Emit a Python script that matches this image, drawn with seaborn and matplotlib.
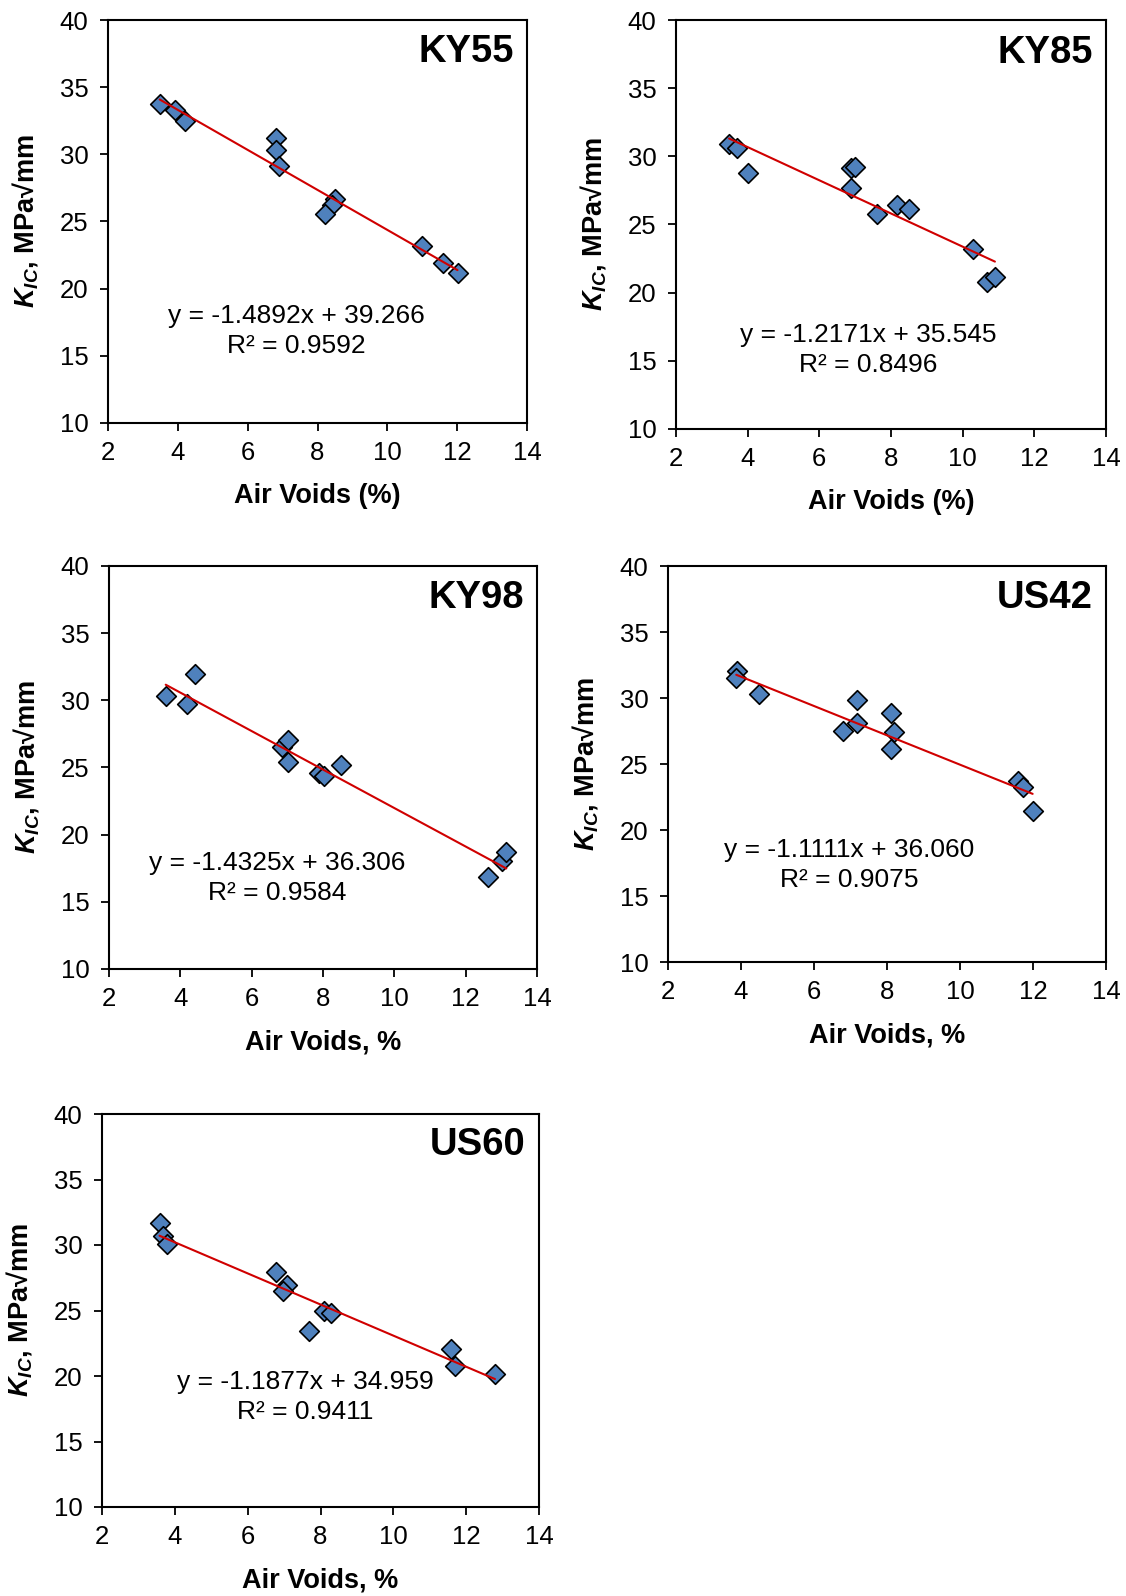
# Fracture toughness (K_IC) vs air voids for five field cores
import numpy as np
import pandas as pd
import matplotlib
matplotlib.use('Agg')
import matplotlib.pyplot as plt
import seaborn as sns

# ── data ─────────────────────────────────────────────────────
sites = ['KY55', 'KY85', 'KY98', 'US42', 'US60']

ky55_voids = [3.48, 3.91, 4.20, 6.80, 6.80, 6.89, 8.50, 8.41, 8.21, 10.99, 11.58, 12.01]
ky55_kic   = [33.78, 33.28, 32.49, 31.22, 30.30, 29.10, 26.67, 26.20, 25.57, 23.21, 21.92, 21.17]

ky85_voids = [3.48, 3.69, 4.00, 6.88, 7.00, 6.88, 7.60, 8.18, 8.49, 10.28, 10.69, 10.90]
ky85_kic   = [30.89, 30.60, 28.76, 29.18, 29.20, 27.71, 25.78, 26.42, 26.17, 23.19, 20.75, 21.12]

ky98_voids = [3.59, 4.19, 4.40, 6.86, 7.02, 7.02, 7.89, 8.02, 8.51, 12.63, 13.02, 13.14]
ky98_kic   = [30.35, 29.73, 31.96, 26.53, 27.02, 25.41, 24.59, 24.34, 25.21, 16.82, 18.01, 18.68]

us42_voids = [3.89, 3.87, 4.50, 6.80, 7.19, 7.19, 8.10, 8.19, 8.10, 11.58, 11.72, 11.99]
us42_kic   = [32.06, 31.51, 30.29, 27.51, 29.86, 28.09, 28.90, 27.46, 26.12, 23.74, 23.28, 21.44]

us60_voids = [3.58, 3.68, 3.79, 6.77, 7.09, 6.97, 7.69, 8.10, 8.28, 11.58, 11.69, 12.79]
us60_kic   = [31.68, 30.66, 30.08, 27.91, 26.97, 26.46, 23.41, 24.94, 24.81, 22.06, 20.74, 20.18]

# linear trendlines as reported on the chart
slopes     = [-1.4892, -1.2171, -1.4325, -1.1111, -1.1877]
intercepts = [39.266, 35.545, 36.306, 36.060, 34.959]
r2_labels  = ['0.9592', '0.8496', '0.9584', '0.9075', '0.9411']
eq_labels  = ['-1.4892x + 39.266', '-1.2171x + 35.545', '-1.4325x + 36.306',
              '-1.1111x + 36.060', '-1.1877x + 34.959']
xlabels    = ['Air Voids (%)', 'Air Voids (%)', 'Air Voids, %', 'Air Voids, %', 'Air Voids, %']

voids_all = [ky55_voids, ky85_voids, ky98_voids, us42_voids, us60_voids]
kic_all   = [ky55_kic, ky85_kic, ky98_kic, us42_kic, us60_kic]

df = pd.concat([pd.DataFrame({'site': s, 'voids': v, 'kic': k})
                for s, v, k in zip(sites, voids_all, kic_all)], ignore_index=True)

# ── style ────────────────────────────────────────────────────
sns.set_style('ticks')
plt.rcParams['font.family'] = ['Liberation Sans', 'DejaVu Sans']
plt.rcParams['text.color'] = 'black'
plt.rcParams['axes.labelcolor'] = 'black'
plt.rcParams['mathtext.fontset'] = 'custom'
plt.rcParams['mathtext.rm'] = 'Liberation Sans:bold'
plt.rcParams['mathtext.it'] = 'Liberation Sans:italic:bold'
plt.rcParams['mathtext.bf'] = 'Liberation Sans:bold'
plt.rcParams['mathtext.bfit'] = 'Liberation Sans:italic:bold'

BLUE = '#4F81BD'
RED = '#D00000'

W, H = 1126, 1596
# pixel boxes (left, top, right, bottom) of each panel
boxes = [(108, 20, 527, 423), (676, 20, 1106, 429),
         (109, 566, 537, 969), (668, 566, 1106, 962),
         (102, 1114, 539, 1507)]
# equation text centre (axes fraction)
eq_pos = [(0.45, 0.228), (0.447, 0.193), (0.394, 0.226), (0.413, 0.245), (0.466, 0.28)]

fig = plt.figure(figsize=(W / 100, H / 100), dpi=100)
fig.patch.set_facecolor('white')

for i, site in enumerate(sites):
    l, t, r, b = boxes[i]
    ax = fig.add_axes([l / W, 1 - b / H, (r - l) / W, (b - t) / H])
    sub = df[df['site'] == site]

    sns.scatterplot(data=sub, x='voids', y='kic', marker='D', s=100,
                    color=BLUE, edgecolor='black', linewidth=1.2,
                    ax=ax, zorder=3, legend=False)

    xs = np.array([sub['voids'].min(), sub['voids'].max()])
    ax.plot(xs, slopes[i] * xs + intercepts[i], color=RED, lw=1.5, zorder=4)

    ax.set_xlim(2, 14)
    ax.set_ylim(10, 40)
    ax.set_xticks(range(2, 15, 2))
    ax.set_yticks(range(10, 41, 5))
    ax.tick_params(axis='both', direction='out', length=6, width=1.3,
                   labelsize=18.5, colors='black')
    ax.tick_params(axis='x', pad=7)
    ax.tick_params(axis='y', pad=8)
    for sp in ax.spines.values():
        sp.set_visible(True)
        sp.set_color('black')
        sp.set_linewidth(1.5)

    ax.set_xlabel(xlabels[i], fontsize=19.5, fontweight='bold', labelpad=13)
    ax.set_ylabel(r'$\mathbfit{K}_{\mathbfit{IC}}$, MPa√mm', fontsize=19.5,
                  fontweight='bold', labelpad=14)

    ax.text(0.97, 0.92, site, transform=ax.transAxes, ha='right', va='center',
            fontsize=27.5, fontweight='bold', color='black')
    ax.text(eq_pos[i][0], eq_pos[i][1],
            f'y = {eq_labels[i]}\nR² = {r2_labels[i]}',
            transform=ax.transAxes, ha='center', va='center',
            multialignment='center', fontsize=19, linespacing=1.35, color='black')

plt.savefig('out.png', dpi=100, facecolor='white')
plt.close()
